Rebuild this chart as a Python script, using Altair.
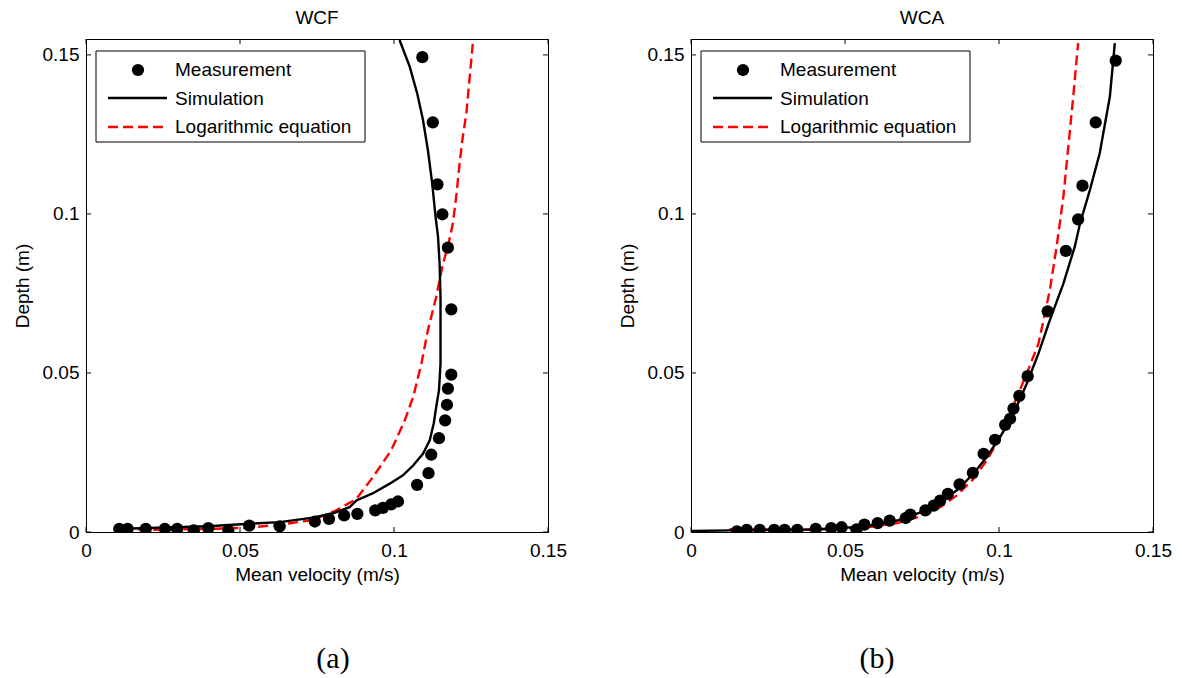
import altair as alt
import pandas as pd

# ---------------- data ----------------
panel_titles = ["WCF", "WCA"]
captions = ["(a)", "(b)"]
legend_labels = ["Measurement", "Simulation", "Logarithmic equation"]
x_ticks = [0, 0.05, 0.1, 0.15]
y_ticks = [0, 0.05, 0.1, 0.15]

# WCF measurement
wcf_meas_v = [0.0108, 0.0135, 0.0194, 0.0256, 0.0296, 0.0350, 0.0397, 0.0462, 0.0530, 0.0629,
              0.0743, 0.0789, 0.0838, 0.0881, 0.0939, 0.0964, 0.0991, 0.1013, 0.1075, 0.1112,
              0.1121, 0.1146, 0.1166, 0.1172, 0.1175, 0.1186, 0.1186, 0.1175, 0.1157, 0.1141,
              0.1126, 0.1092]
wcf_meas_d = [0.0010, 0.0010, 0.0010, 0.0010, 0.0010, 0.0005, 0.0012, 0.0005, 0.0020, 0.0018,
              0.0033, 0.0041, 0.0052, 0.0057, 0.0068, 0.0076, 0.0087, 0.0096, 0.0148, 0.0185,
              0.0243, 0.0295, 0.0351, 0.0400, 0.0451, 0.0495, 0.0700, 0.0894, 0.0999, 0.1093,
              0.1288, 0.1493]
# WCF simulation
wcf_sim_v = [0.0121, 0.0397, 0.0530, 0.0629, 0.0737, 0.0802, 0.0856, 0.0878, 0.0932, 0.0986,
             0.1029, 0.1062, 0.1094, 0.1116, 0.1129, 0.1137, 0.1146, 0.1151, 0.1151, 0.1151,
             0.1148, 0.1143, 0.1135, 0.1124, 0.1110, 0.1094, 0.1075, 0.1051, 0.1018]
wcf_sim_d = [0.0010, 0.0018, 0.0026, 0.0031, 0.0045, 0.0059, 0.0078, 0.0099, 0.0122, 0.0152,
             0.0178, 0.0209, 0.0246, 0.0288, 0.0341, 0.0393, 0.0445, 0.0529, 0.0634, 0.0739,
             0.0844, 0.0928, 0.0991, 0.1096, 0.1201, 0.1296, 0.1380, 0.1463, 0.1547]
# WCF logarithmic equation
wcf_log_v = [0.0121, 0.0240, 0.0397, 0.0521, 0.0629, 0.0737, 0.0813, 0.0878, 0.0932, 0.0991,
             0.1035, 0.1062, 0.1089, 0.1110, 0.1137, 0.1159, 0.1175, 0.1191, 0.1202, 0.1213,
             0.1222, 0.1235, 0.1245, 0.1256]
wcf_log_d = [0.0008, 0.0007, 0.0010, 0.0013, 0.0023, 0.0038, 0.0068, 0.0104, 0.0173, 0.0257,
             0.0351, 0.0424, 0.0529, 0.0634, 0.0739, 0.0844, 0.0897, 0.0970, 0.1054, 0.1159,
             0.1233, 0.1317, 0.1422, 0.1537]

# WCA measurement
wca_meas_v = [0.0149, 0.0181, 0.0223, 0.0270, 0.0304, 0.0345, 0.0405, 0.0455, 0.0489, 0.0537,
              0.0563, 0.0606, 0.0645, 0.0697, 0.0712, 0.0761, 0.0788, 0.0809, 0.0834, 0.0872,
              0.0915, 0.0950, 0.0987, 0.1020, 0.1036, 0.1047, 0.1066, 0.1093, 0.1158, 0.1217,
              0.1257, 0.1271, 0.1314, 0.1379]
wca_meas_d = [0.0002, 0.0007, 0.0007, 0.0007, 0.0007, 0.0007, 0.0010, 0.0012, 0.0015, 0.0008,
              0.0023, 0.0028, 0.0036, 0.0044, 0.0055, 0.0068, 0.0083, 0.0099, 0.0120, 0.0150,
              0.0186, 0.0246, 0.0290, 0.0337, 0.0356, 0.0388, 0.0428, 0.0490, 0.0694, 0.0884,
              0.0983, 0.1089, 0.1288, 0.1482]
# WCA simulation
wca_sim_v = [0.0, 0.0129, 0.0399, 0.0561, 0.0669, 0.0745, 0.0809, 0.0863, 0.0917, 0.0960,
             0.1004, 0.1047, 0.1090, 0.1128, 0.1165, 0.1209, 0.1246, 0.1263, 0.1295, 0.1327,
             0.1360, 0.1376]
wca_sim_d = [0.0003, 0.0005, 0.0008, 0.0017, 0.0036, 0.0062, 0.0094, 0.0131, 0.0183, 0.0236,
             0.0299, 0.0372, 0.0466, 0.0561, 0.0666, 0.0781, 0.0897, 0.0970, 0.1075, 0.1191,
             0.1369, 0.1537]
# WCA logarithmic equation
wca_log_v = [0.0124, 0.0399, 0.0561, 0.0669, 0.0745, 0.0809, 0.0863, 0.0917, 0.0960, 0.0998,
             0.1031, 0.1058, 0.1090, 0.1128, 0.1149, 0.1165, 0.1187, 0.1209, 0.1225, 0.1241,
             0.1257]
wca_log_d = [0.0008, 0.0008, 0.0013, 0.0028, 0.0049, 0.0078, 0.0115, 0.0167, 0.0225, 0.0288,
             0.0362, 0.0424, 0.0498, 0.0592, 0.0687, 0.0760, 0.0897, 0.1054, 0.1211, 0.1369,
             0.1537]

# ---------------- styling ----------------
W, H = 462, 493
FONT = "Liberation Sans"
FS = 19
TICK = 5
LW = 2.4
DASH = [10, 5]


def panel(title, caption, cap_x, mv, md, sv, sd, lv, ld):
    xs = alt.Scale(domain=[0, 0.15], nice=False, zero=False)
    ys = alt.Scale(domain=[0, 0.155], nice=False, zero=False)
    xax = alt.Axis(values=x_ticks, format="~g", title="Mean velocity (m/s)", grid=False,
                   tickSize=0, labelPadding=9, titlePadding=5, domainColor="black",
                   labelFlush=False)
    yax = alt.Axis(values=y_ticks, format="~g", title="Depth (m)", grid=False,
                   tickSize=0, labelPadding=7, titlePadding=10, domainColor="black")

    meas = pd.DataFrame({"v": mv, "d": md})
    sim = pd.DataFrame({"v": sv, "d": sd, "o": list(range(len(sv)))})
    log = pd.DataFrame({"v": lv, "d": ld, "o": list(range(len(lv)))})
    xt = pd.DataFrame({"v": x_ticks})
    yt = pd.DataFrame({"d": y_ticks})

    base_pts = alt.Chart(meas).mark_point(filled=True, color="black", size=150, opacity=1,
                                          clip=True).encode(
        x=alt.X("v:Q", scale=xs, axis=xax),
        y=alt.Y("d:Q", scale=ys, axis=yax),
    )
    sim_line = alt.Chart(sim).mark_line(color="black", strokeWidth=LW, clip=True).encode(
        x=alt.X("v:Q", scale=xs), y=alt.Y("d:Q", scale=ys), order="o:Q")
    log_line = alt.Chart(log).mark_line(color="#ff0000", strokeWidth=LW, strokeDash=DASH,
                                        clip=True).encode(
        x=alt.X("v:Q", scale=xs), y=alt.Y("d:Q", scale=ys), order="o:Q")

    # inward ticks on all four sides
    tb = alt.Chart(xt).mark_rule(color="black", strokeWidth=1).encode(
        x=alt.X("v:Q", scale=xs), y=alt.value(H), y2=alt.value(H - TICK))
    tt = alt.Chart(xt).mark_rule(color="black", strokeWidth=1).encode(
        x=alt.X("v:Q", scale=xs), y=alt.value(0), y2=alt.value(TICK))
    tl = alt.Chart(yt).mark_rule(color="black", strokeWidth=1).encode(
        y=alt.Y("d:Q", scale=ys), x=alt.value(0), x2=alt.value(TICK))
    tr = alt.Chart(yt).mark_rule(color="black", strokeWidth=1).encode(
        y=alt.Y("d:Q", scale=ys), x=alt.value(W), x2=alt.value(W - TICK))

    # legend box
    one = pd.DataFrame({"k": [0]})
    lbox = alt.Chart(one).mark_rect(fill="white", stroke="black", strokeWidth=1).encode(
        x=alt.value(10), x2=alt.value(279), y=alt.value(12), y2=alt.value(103))
    l_pt = alt.Chart(one).mark_point(filled=True, color="black", size=150, opacity=1).encode(
        x=alt.value(52), y=alt.value(31))
    l_sim = alt.Chart(one).mark_rule(color="black", strokeWidth=LW).encode(
        x=alt.value(22), x2=alt.value(81), y=alt.value(59))
    l_log = alt.Chart(one).mark_rule(color="#ff0000", strokeWidth=LW, strokeDash=DASH).encode(
        x=alt.value(22), x2=alt.value(81), y=alt.value(88))
    l_txt = []
    for i, lab in enumerate(legend_labels):
        l_txt.append(alt.Chart(one).mark_text(align="left", baseline="middle", font=FONT,
                                              fontSize=FS, color="black").encode(
            x=alt.value(89), y=alt.value(31 + 28.5 * i), text=alt.value(lab)))
    cap = alt.Chart(one).mark_text(align="center", baseline="middle", font="Liberation Serif",
                                   fontSize=30, color="black").encode(
        x=alt.value(cap_x), y=alt.value(H + 127), text=alt.value(caption))

    return alt.layer(
        log_line, sim_line, base_pts, tb, tt, tl, tr,
        lbox, l_pt, l_sim, l_log, *l_txt, cap
    ).properties(
        width=W, height=H,
        title=alt.TitleParams(title, font=FONT, fontSize=FS, fontWeight="normal",
                              color="black", offset=11),
    )


left = panel(panel_titles[0], captions[0], 247, wcf_meas_v, wcf_meas_d, wcf_sim_v, wcf_sim_d,
             wcf_log_v, wcf_log_d)
right = panel(panel_titles[1], captions[1], 186, wca_meas_v, wca_meas_d, wca_sim_v, wca_sim_d,
              wca_log_v, wca_log_d)

chart = alt.hconcat(left, right, spacing=50).properties(
    padding={"left": 12, "top": 8, "right": 5, "bottom": 5},
    background="white",
).configure_view(
    stroke="black", strokeWidth=1
).configure_axis(
    labelFont=FONT, labelFontSize=FS, labelColor="black",
    titleFont=FONT, titleFontSize=FS, titleFontWeight="normal", titleColor="black",
    domainWidth=1,
)

chart.save("out.html", embed_options={"renderer": "svg", "actions": False})
